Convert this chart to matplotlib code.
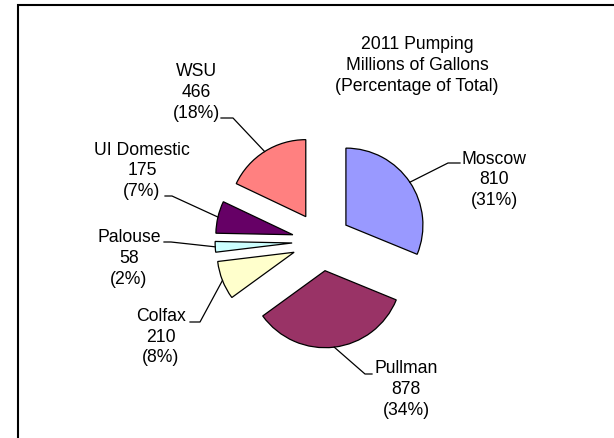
import numpy as np
import matplotlib
matplotlib.use("Agg")
import matplotlib.pyplot as plt
from matplotlib.patches import Rectangle

# Data (millions of gallons, 2011)
sources = ["Moscow", "Pullman", "Colfax", "Palouse", "UI Domestic", "WSU"]
gallons = [810, 878, 210, 58, 175, 466]
colors = ["#9999FF", "#993366", "#FFFFCC", "#CCFFFF", "#660066", "#FF8080"]

title_lines = ["2011 Pumping", "Millions of Gallons", "(Percentage of Total)"]

W, H = 614, 438
plt.rcParams["font.family"] = ["Liberation Sans", "DejaVu Sans"]

fig = plt.figure(figsize=(W / 100, H / 100), dpi=100)
ax = fig.add_axes([0, 0, 1, 1])


def px(x, y):
    # pixel coords (y down) -> data coords (y up)
    return x, H - y


radius = 77
cx, cy = px(321.5, 241.5)
wedges, _ = ax.pie(gallons, explode=[29.4] * len(gallons), startangle=90,
                   counterclock=False, colors=colors, radius=radius,
                   center=(cx, cy),
                   wedgeprops=dict(edgecolor="black", linewidth=0.9))
ax.set_xlim(0, W)
ax.set_ylim(0, H)
ax.set_aspect("equal")
ax.axis("off")

# outer frame (cut off on the right and bottom)
fig.add_artist(Rectangle((18 / W, -0.1), 1.2, (H - 5) / H + 0.1,
                         transform=fig.transFigure, fill=False,
                         edgecolor="black", linewidth=1.5))

total = sum(gallons)
# label centre, elbow and end of the leader line (pixel positions)
label_pos = {
    "Moscow": (494, 180), "Pullman": (406, 389.5), "Colfax": (161, 337),
    "Palouse": (129, 258.5), "UI Domestic": (142, 170.7), "WSU": (196.5, 92.5),
}
leader = {
    "Moscow": ((448, 163), (460, 163)),
    "Pullman": ((365, 374), (372, 374)),
    "Colfax": ((200, 322), (190, 322)),
    "Palouse": ((171, 242), (164, 242)),
    "UI Domestic": ((172, 196), (165, 196)),
    "WSU": ((233, 118), (221, 118)),
}

for w, name, val in zip(wedges, sources, gallons):
    pct = round(val / total * 100)
    lx, ly = px(*label_pos[name])
    ax.text(lx, ly, f"{name}\n{val}\n({pct}%)", ha="center", va="center",
            fontsize=12.7, linespacing=1.27)
    mid = np.deg2rad((w.theta1 + w.theta2) / 2)
    ax_, ay_ = w.center[0] + w.r * np.cos(mid), w.center[1] + w.r * np.sin(mid)
    (ex, ey), (tx, ty) = leader[name]
    ex, ey = px(ex, ey)
    tx, ty = px(tx, ty)
    ax.plot([ax_, ex, tx], [ay_, ey, ty], color="black", linewidth=0.9)

tx, ty = px(417, 65.5)
ax.text(tx, ty, "\n".join(title_lines), ha="center", va="center",
        fontsize=12.7, linespacing=1.27)

fig.savefig("out.png", dpi=100)
